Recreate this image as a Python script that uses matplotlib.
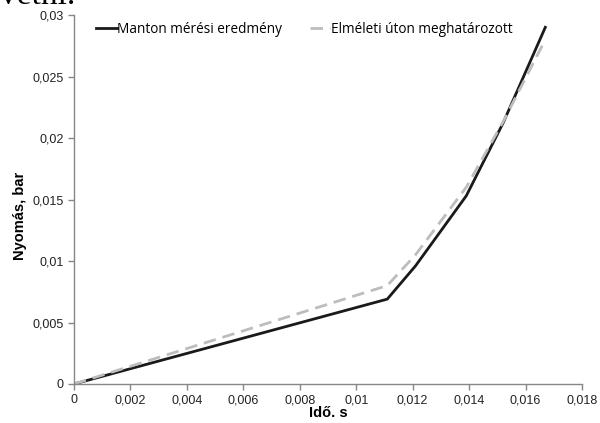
import matplotlib.pyplot as plt
from matplotlib.ticker import FuncFormatter

# idő [s] és nyomás [bar]
t_meres = [0.0, 0.0111, 0.0121, 0.0139, 0.0152, 0.0167]
p_meres = [0.0, 0.0069, 0.0096, 0.0153, 0.0212, 0.0290]

t_elmelet = [0.0, 0.0111, 0.0121, 0.0139, 0.0152, 0.0167]
p_elmelet = [0.0, 0.0080, 0.0105, 0.0160, 0.0213, 0.0280]

x_ticks = [0, 0.002, 0.004, 0.006, 0.008, 0.01, 0.012, 0.014, 0.016, 0.018]
y_ticks = [0, 0.005, 0.01, 0.015, 0.02, 0.025, 0.03]


def comma(v, pos):
    s = ('%.3f' % v).rstrip('0').rstrip('.')
    return s.replace('.', ',')


fig = plt.figure(figsize=(6, 4.23), dpi=100)
ax = fig.add_axes([0.1233, 0.0922, 0.8467, 0.8723])

ax.plot(t_meres, p_meres, color='#1a1a1a', lw=2, label='Manton mérési eredmény')
ax.plot(t_elmelet, p_elmelet, color='#bdbdbd', lw=2, dashes=(4.5, 2.5),
        label='Elméleti úton meghatározott')

ax.set_xlim(0, 0.018)
ax.set_ylim(0, 0.03)
ax.set_xticks(x_ticks)
ax.set_yticks(y_ticks)
ax.xaxis.set_major_formatter(FuncFormatter(comma))
ax.yaxis.set_major_formatter(FuncFormatter(comma))

for side in ['top', 'right']:
    ax.spines[side].set_visible(False)
for side in ['left', 'bottom']:
    ax.spines[side].set_color('#868686')
    ax.spines[side].set_linewidth(1)
ax.tick_params(direction='out', length=4, color='#868686', width=1,
               labelsize=9, labelcolor='#222222')
for lab in ax.get_xticklabels() + ax.get_yticklabels():
    lab.set_family('Liberation Sans')

ax.set_xlabel('Idő. s', fontsize=10.5, fontweight='bold', family='Liberation Sans', labelpad=0)
ax.set_ylabel('Nyomás, bar', fontsize=10.5, fontweight='bold', family='Liberation Sans', labelpad=7)
ax.yaxis.set_label_coords(-0.092, 0.455)

ax.legend(loc='upper left', bbox_to_anchor=(0.02, 1.015), ncol=2, frameon=False,
          handlelength=1.5, handletextpad=0.05, columnspacing=2.0,
          prop={'family': 'Open Sans', 'size': 9.8})

# a fölötte levő szöveg levágott alja
fig.text(0.0, 1 - 4 / 423, 'vetni.', fontsize=24, family='Liberation Serif', va='baseline')

fig.savefig('out.png', dpi=100)
